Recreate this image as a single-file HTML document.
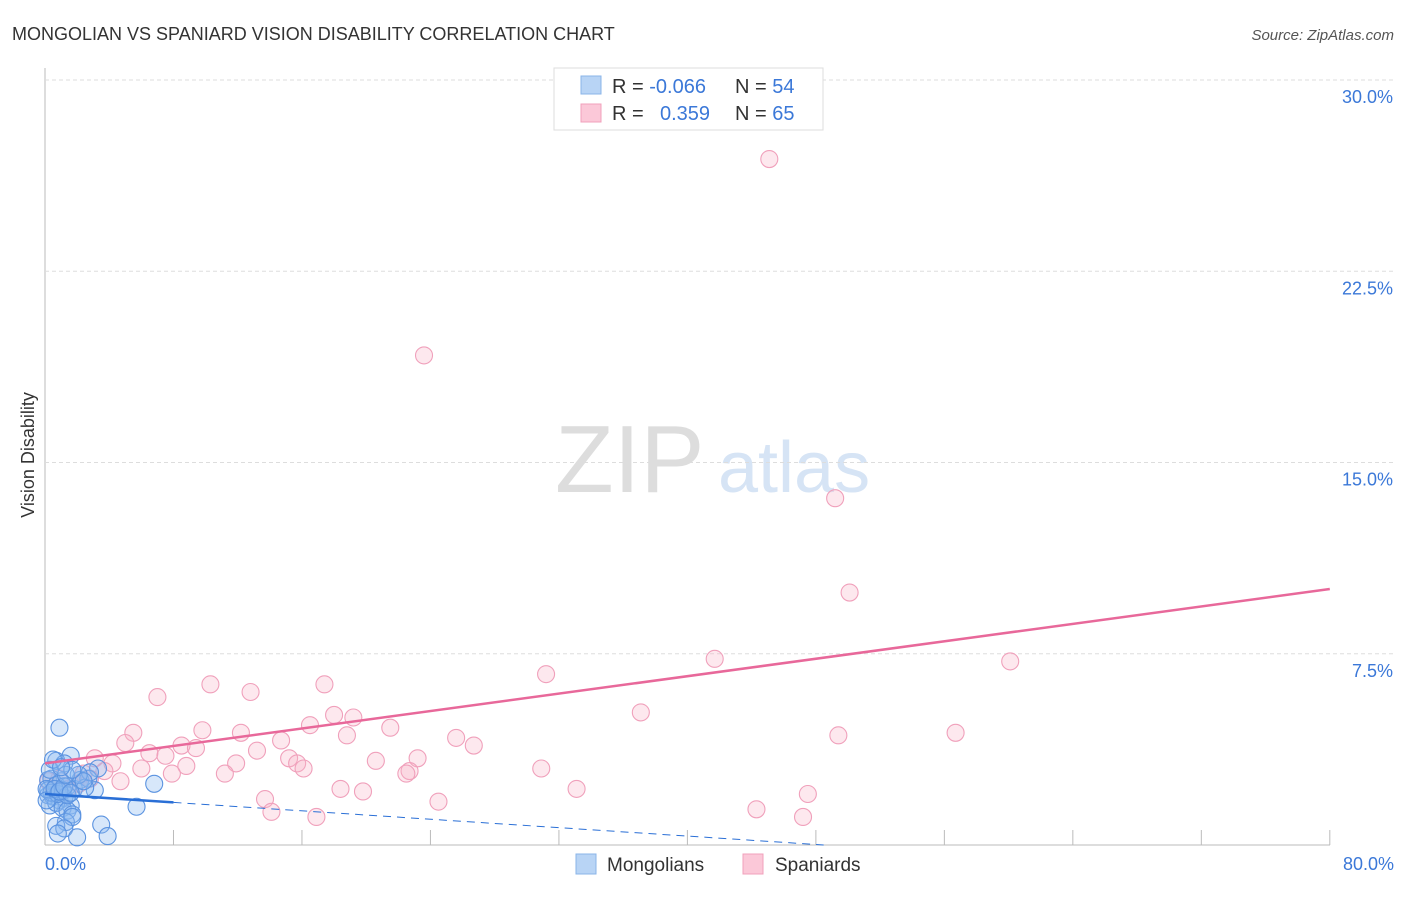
<!DOCTYPE html>
<html><head><meta charset="utf-8"><style>
body{margin:0;background:#fff;font-family:"Liberation Sans",sans-serif}
svg text{font-family:"Liberation Sans",sans-serif}
</style></head><body>
<svg id="c" width="1406" height="892">
<text x="12" y="40" font-size="18" fill="#333">MONGOLIAN VS SPANIARD VISION DISABILITY CORRELATION CHART</text>
<text x="1394" y="40" font-size="15" fill="#555" font-style="italic" text-anchor="end">Source: ZipAtlas.com</text>
<text x="34" y="455" font-size="18" fill="#333" transform="rotate(-90 34 455)" text-anchor="middle">Vision Disability</text>
<text x="555" y="492" font-size="96" fill="#ddd" font-family="Liberation Serif">ZIP</text>
<text x="718" y="492" font-size="72" fill="#d6e4f5">atlas</text>
<g id="grid"></g><g id="pts"></g><g id="lines"></g>
<g>
<rect x="554" y="68" width="269" height="62" fill="#fff" stroke="#ddd"/>
<rect x="581" y="76" width="20" height="18" fill="#b8d4f5" stroke="#8ab4e8"/>
<rect x="581" y="104" width="20" height="18" fill="#fbc8d8" stroke="#f0a0bb"/>
<text x="612" y="93" font-size="20" fill="#333">R = <tspan fill="#3b78d8">-0.066</tspan></text>
<text x="735" y="93" font-size="20" fill="#333">N = <tspan fill="#3b78d8">54</tspan></text>
<text x="612" y="120" font-size="20" fill="#333">R = <tspan fill="#3b78d8" x="660">0.359</tspan></text>
<text x="735" y="120" font-size="20" fill="#333">N = <tspan fill="#3b78d8">65</tspan></text>
</g>
<g>
<rect x="576" y="854" width="20" height="20" fill="#b8d4f5" stroke="#8ab4e8"/>
<text x="607" y="871" font-size="19" fill="#333">Mongolians</text>
<rect x="743" y="854" width="20" height="20" fill="#fbc8d8" stroke="#f0a0bb"/>
<text x="775" y="871" font-size="19" fill="#333">Spaniards</text>
</g>
<text x="45" y="870" font-size="18" fill="#3b78d8">0.0%</text>
<text x="1394" y="870" font-size="18" fill="#3b78d8" text-anchor="end">80.0%</text>
</svg>
<script>
const yTicks=[7.5,15,22.5,30];
const yTickLabels=["7.5%","15.0%","22.5%","30.0%"];
const xTicks=[8,16,24,32,40,48,56,64,72,80];
const blueX=[0.9,1.6,0.7,1.2,3.3,0.2,0.4,0.7,1.0,1.4,1.8,2.2,2.7,3.1,0.2,0.5,0.9,1.2,1.6,0.3,0.7,1.1,1.4,1.7,6.8,5.7,1.3,1.7,0.7,1.2,3.5,3.9,0.8,2.0,0.2,0.4,0.8,1.1,1.4,2.5,2.8,2.1,2.4,0.1,0.1,0.6,0.9,1.2,1.6,1.3,1.7,0.3,0.5,1.0];
const blueY=[4.6,3.5,3.3,3.2,3.0,2.55,2.6,2.35,2.5,2.3,2.2,2.55,2.6,2.15,1.95,1.9,1.75,1.85,1.55,1.55,1.65,1.45,1.35,1.2,2.4,1.5,0.9,1.1,0.75,0.65,0.8,0.35,0.45,0.3,2.15,2.05,2.0,2.15,1.95,2.25,2.85,2.75,2.5,2.2,1.75,2.2,2.1,2.3,2.05,2.75,2.95,2.95,3.35,3.05];
const pinkX=[45.1,23.6,49.2,50.1,41.7,60.1,31.2,37.1,49.4,56.7,7.0,10.3,12.8,17.4,18.0,19.2,21.5,9.8,12.2,14.7,16.5,18.8,5.5,5.0,3.1,6.5,7.5,8.5,9.4,13.2,15.2,15.7,16.1,20.6,23.2,25.6,26.7,30.9,22.7,22.5,11.9,8.8,6.0,7.9,11.2,4.2,3.7,4.7,2.4,2.1,1.4,13.7,14.1,16.9,18.4,19.8,24.5,33.1,44.3,47.5,47.2,0.2,0.9,2.8,0.6];
const pinkY=[26.9,19.2,13.6,9.9,7.3,7.2,6.7,5.2,4.3,4.4,5.8,6.3,6.0,6.3,5.1,5.0,4.6,4.5,4.4,4.1,4.7,4.3,4.4,4.0,3.4,3.6,3.5,3.9,3.8,3.7,3.4,3.2,3.0,3.3,3.4,4.2,3.9,3.0,2.9,2.8,3.2,3.1,3.0,2.8,2.8,3.2,2.9,2.5,2.8,2.4,2.2,1.8,1.3,1.1,2.2,2.1,1.7,2.2,1.4,2.0,1.1,2.5,2.6,2.6,2.2];
const pinkTrend=[3.2,10.04];
const blueTrend=[2.0,1.67];
const xs=v=>45+v*16.06, ys=v=>845-v*25.5;
const NS="http://www.w3.org/2000/svg";
function mk(t,a,p){const e=document.createElementNS(NS,t);for(const k in a)e.setAttribute(k,a[k]);p.appendChild(e);return e;}
const grid=document.getElementById('grid');
let ax=mk('line',{x1:45,y1:68,x2:45,y2:845,stroke:'#bbb'},grid);


let bx=mk('line',{x1:45,y1:845,x2:1330,y2:845,stroke:'#bbb'},grid);


yTicks.forEach((v,i)=>{
 const g=mk('line',{x1:45,y1:ys(v),x2:1394,y2:ys(v),stroke:'#ddd','stroke-dasharray':'4,3'},grid);
 
 
 const t=mk('text',{x:1393,y:ys(v)+23,'font-size':18,fill:'#3b78d8','text-anchor':'end'},grid);
 t.textContent=yTickLabels[i];
 
 
});
xTicks.forEach(v=>{
 const l=mk('line',{x1:xs(v),y1:830,x2:xs(v),y2:845,stroke:'#bbb'},grid);
 
 
});
const pts=document.getElementById('pts');
pinkX.forEach((x,i)=>{
 const c=mk('circle',{cx:xs(x),cy:ys(pinkY[i]),r:8.5,fill:'rgba(248,180,200,0.3)',stroke:'#f0a0bb','stroke-width':1.1},pts);
 
 
});
blueX.forEach((x,i)=>{
 const c=mk('circle',{cx:xs(x),cy:ys(blueY[i]),r:8.5,fill:'rgba(140,185,240,0.35)',stroke:'#5b93e0','stroke-width':1.1},pts);
 
 
});
const ln=document.getElementById('lines');
let p=mk('line',{x1:xs(0),y1:ys(pinkTrend[0]),x2:xs(80),y2:ys(pinkTrend[1]),stroke:'#e8689a','stroke-width':2.5},ln);


const bs=(blueTrend[1]-blueTrend[0])/8;
let b=mk('line',{x1:xs(0),y1:ys(blueTrend[0]),x2:xs(8),y2:ys(blueTrend[1]),stroke:'#2a6fd6','stroke-width':2.5},ln);


const xEnd=-blueTrend[0]/bs;
let bd=mk('line',{x1:xs(8),y1:ys(blueTrend[1]),x2:xs(xEnd),y2:ys(0),stroke:'#2a6fd6','stroke-width':1,'stroke-dasharray':'8,6'},ln);


</script>
</body></html>
